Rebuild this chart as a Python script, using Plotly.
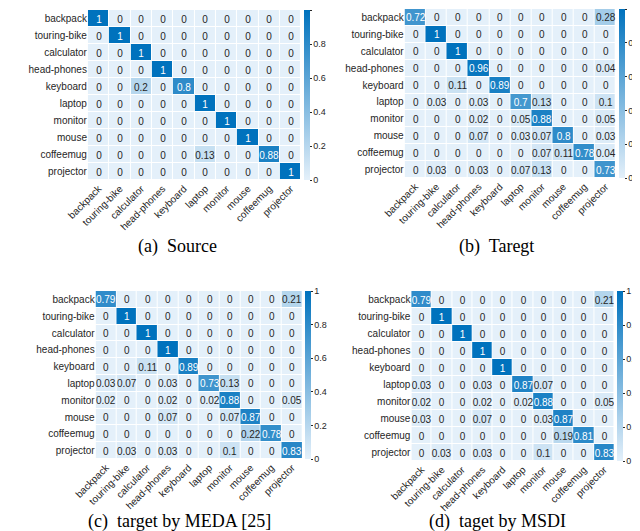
import plotly.graph_objects as go

categories = ["backpack", "touring-bike", "calculator", "head-phones", "keyboard",
              "laptop", "monitor", "mouse", "coffeemug", "projector"]

source_vals = [
    [1, 0, 0, 0, 0, 0, 0, 0, 0, 0],
    [0, 1, 0, 0, 0, 0, 0, 0, 0, 0],
    [0, 0, 1, 0, 0, 0, 0, 0, 0, 0],
    [0, 0, 0, 1, 0, 0, 0, 0, 0, 0],
    [0, 0, 0.2, 0, 0.8, 0, 0, 0, 0, 0],
    [0, 0, 0, 0, 0, 1, 0, 0, 0, 0],
    [0, 0, 0, 0, 0, 0, 1, 0, 0, 0],
    [0, 0, 0, 0, 0, 0, 0, 1, 0, 0],
    [0, 0, 0, 0, 0, 0.13, 0, 0, 0.88, 0],
    [0, 0, 0, 0, 0, 0, 0, 0, 0, 1],
]

target_vals = [
    [0.72, 0, 0, 0, 0, 0, 0, 0, 0, 0.28],
    [0, 1, 0, 0, 0, 0, 0, 0, 0, 0],
    [0, 0, 1, 0, 0, 0, 0, 0, 0, 0],
    [0, 0, 0, 0.96, 0, 0, 0, 0, 0, 0.04],
    [0, 0, 0.11, 0, 0.89, 0, 0, 0, 0, 0],
    [0, 0.03, 0, 0.03, 0, 0.7, 0.13, 0, 0, 0.1],
    [0, 0, 0, 0.02, 0, 0.05, 0.88, 0, 0, 0.05],
    [0, 0, 0, 0.07, 0, 0.03, 0.07, 0.8, 0, 0.03],
    [0, 0, 0, 0, 0, 0, 0.07, 0.11, 0.78, 0.04],
    [0, 0.03, 0, 0.03, 0, 0.07, 0.13, 0, 0, 0.73],
]

meda_vals = [
    [0.79, 0, 0, 0, 0, 0, 0, 0, 0, 0.21],
    [0, 1, 0, 0, 0, 0, 0, 0, 0, 0],
    [0, 0, 1, 0, 0, 0, 0, 0, 0, 0],
    [0, 0, 0, 1, 0, 0, 0, 0, 0, 0],
    [0, 0, 0.11, 0, 0.89, 0, 0, 0, 0, 0],
    [0.03, 0.07, 0, 0.03, 0, 0.73, 0.13, 0, 0, 0],
    [0.02, 0, 0, 0.02, 0, 0.02, 0.88, 0, 0, 0.05],
    [0, 0, 0, 0.07, 0, 0, 0.07, 0.87, 0, 0],
    [0, 0, 0, 0, 0, 0, 0, 0.22, 0.78, 0],
    [0, 0.03, 0, 0.03, 0, 0, 0.1, 0, 0, 0.83],
]

msdi_vals = [
    [0.79, 0, 0, 0, 0, 0, 0, 0, 0, 0.21],
    [0, 1, 0, 0, 0, 0, 0, 0, 0, 0],
    [0, 0, 1, 0, 0, 0, 0, 0, 0, 0],
    [0, 0, 0, 1, 0, 0, 0, 0, 0, 0],
    [0, 0, 0, 0, 1, 0, 0, 0, 0, 0],
    [0.03, 0, 0, 0.03, 0, 0.87, 0.07, 0, 0, 0],
    [0.02, 0, 0, 0.02, 0, 0.02, 0.88, 0, 0, 0.05],
    [0.03, 0, 0, 0.07, 0, 0, 0.03, 0.87, 0, 0],
    [0, 0, 0, 0, 0, 0, 0, 0.19, 0.81, 0],
    [0, 0.03, 0, 0.03, 0, 0, 0.1, 0, 0, 0.83],
]

captions = ["(a)  Source", "(b)  Taregt", "(c)  target by MEDA [25]", "(d)  taget by MSDI"]
colorbar_ticks = [0, 0.2, 0.4, 0.6, 0.8, 1]

W, H = 640, 531
panels = [
    dict(z=source_vals, box=(60, 281, 2, 172), cb=284, cap=(153, 238)),
    dict(z=target_vals, box=(388, 607, 1, 170), cb=610, cap=(483, 238)),
    dict(z=meda_vals, box=(68, 282, 283, 451), cb=285, cap=(155, 513)),
    dict(z=msdi_vals, box=(395, 605, 283, 453), cb=608, cap=(484, 513)),
]

colorscale = [[0, "rgb(228,240,250)"], [1, "rgb(0,114,189)"]]
FONT = "Liberation Sans, Arial, sans-serif"
fig = go.Figure()
layout = dict(width=W, height=H, margin=dict(l=0, r=0, t=0, b=0),
              paper_bgcolor="white", plot_bgcolor="white", showlegend=False,
              font=dict(family=FONT, color="#262626", size=10),
              annotations=[])


def fmt(v):
    return str(v)


for i, p in enumerate(panels):
    n = "" if i == 0 else str(i + 1)
    l, r, t, b = p["box"]
    x0, x1 = l / W, r / W
    y0, y1 = 1 - b / H, 1 - t / H
    z = p["z"]
    low_text = [[fmt(v) if v < 0.5 else "" for v in row] for row in z]
    high_z = [[v if v >= 0.5 else None for v in row] for row in z]
    high_text = [[fmt(v) if v >= 0.5 else "" for v in row] for row in z]
    fig.add_trace(go.Heatmap(
        z=z, x=categories, y=categories, text=low_text,
        coloraxis="coloraxis" + n, xaxis="x" + n, yaxis="y" + n,
        xgap=1, ygap=1, texttemplate="%{text}",
        textfont=dict(size=10, family=FONT, color="#262626"),
        hoverinfo="skip",
    ))
    fig.add_trace(go.Heatmap(
        z=high_z, x=categories, y=categories, text=high_text,
        coloraxis="coloraxis" + n, xaxis="x" + n, yaxis="y" + n,
        xgap=1, ygap=1, texttemplate="%{text}",
        textfont=dict(size=10, family=FONT, color="white"),
        hoverinfo="skip",
    ))
    layout["xaxis" + n] = dict(domain=[x0, x1], anchor="y" + n, tickangle=-45,
                                showgrid=False, zeroline=False, ticks="",
                                tickfont=dict(size=10, color="#262626"),
                                categoryorder="array", categoryarray=categories)
    layout["yaxis" + n] = dict(domain=[y0, y1], anchor="x" + n, autorange="reversed",
                                showgrid=False, zeroline=False, ticks="",
                                tickfont=dict(size=10, color="#262626"),
                                categoryorder="array", categoryarray=categories)
    layout["coloraxis" + n] = dict(
        cmin=0, cmax=1, colorscale=colorscale,
        colorbar=dict(x=p["cb"] / W, xanchor="left", xpad=0, ypad=0,
                      y=(y0 + y1) / 2, yanchor="middle", len=(y1 - y0), lenmode="fraction",
                      thickness=6, thicknessmode="pixels", outlinewidth=0,
                      tickvals=colorbar_ticks, ticks="outside", ticklen=2,
                      tickcolor="#262626", tickfont=dict(size=9, color="#262626")))
    cx, cy = p["cap"]
    layout["annotations"].append(dict(
        text=captions[i], x=cx / W, y=1 - cy / H, xref="paper", yref="paper",
        xanchor="center", yanchor="middle", showarrow=False,
        font=dict(family="Liberation Serif, Times New Roman, serif", size=18, color="black")))

fig.update_layout(**layout)
fig.write_html("out.html")
